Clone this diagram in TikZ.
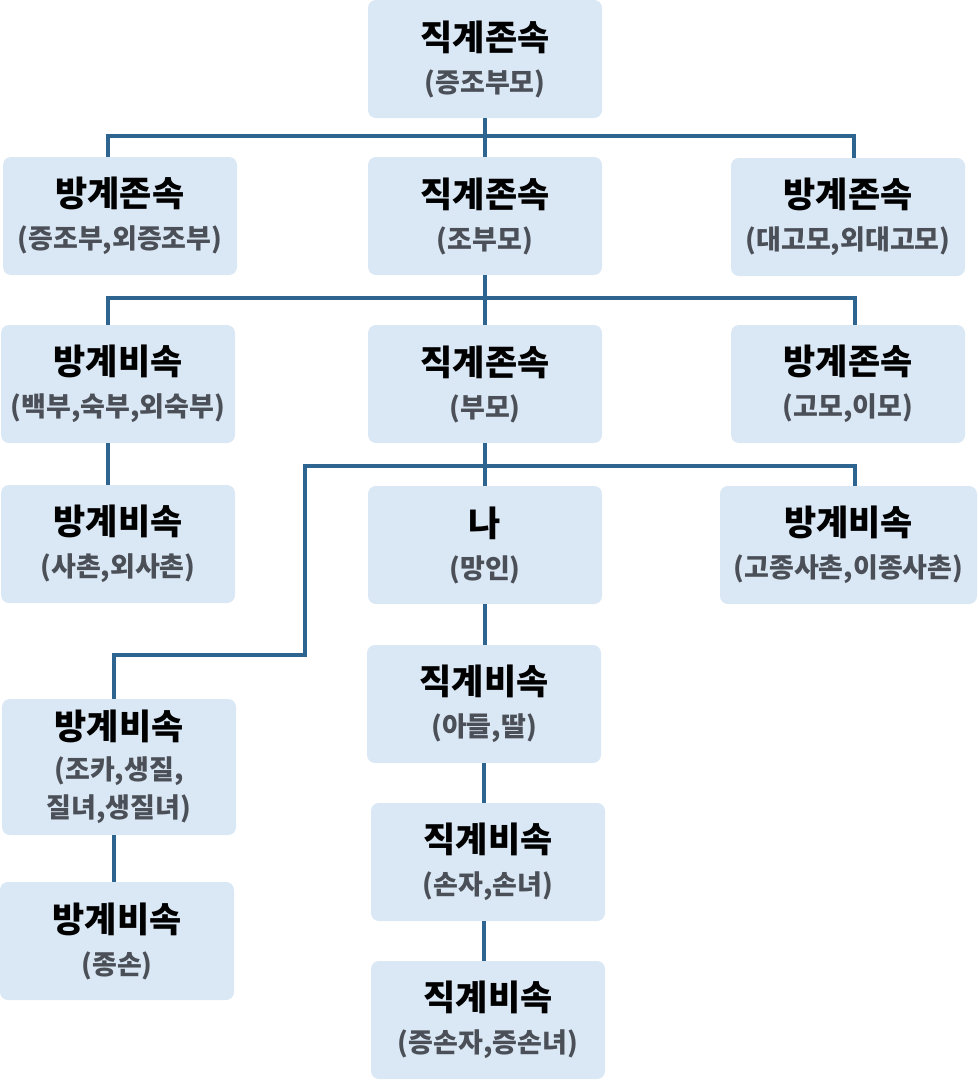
\documentclass[tikz,border=0pt]{standalone}
\usepackage{fontspec}
\setmainfont{Noto Sans CJK KR}
\usetikzlibrary{calc,positioning}
\definecolor{boxblue}{HTML}{DAE7F4}
\definecolor{linkblue}{HTML}{2E6490}
\definecolor{subgray}{HTML}{4B5058}
\newcommand{\subfnt}{\fontsize{27}{35}\selectfont\bfseries\color{subgray}}
\newcommand{\kin}[2]{#1\\[2pt]\subfnt #2}
\tikzset{
  kinbox/.style={fill=boxblue,rounded corners=8pt,minimum width=234,minimum height=118,align=center,inner sep=0pt,font=\fontsize{35}{40}\selectfont\bfseries},
  link/.style={draw=linkblue,line width=4pt}
}
\begin{document}
\begin{tikzpicture}[x=1pt,y=-1pt]
  \useasboundingbox (0,0) rectangle (978,1081);
  % ancestors
  \node[kinbox] (top) at (485,59) {\kin{직계존속}{(증조부모)}};
  \node[kinbox] (gpl) at (120,216) {\kin{방계존속}{(증조부,외증조부)}};
  \node[kinbox] (gp) at (485,216) {\kin{직계존속}{(조부모)}};
  \node[kinbox] (gpr) at (848,217) {\kin{방계존속}{(대고모,외대고모)}};
  \node[kinbox] (uncle) at (118,384) {\kin{방계비속}{(백부,숙부,외숙부)}};
  \node[kinbox] (parent) at (485,384) {\kin{직계존속}{(부모)}};
  \node[kinbox] (aunt) at (848,384) {\kin{방계존속}{(고모,이모)}};
  % own generation
  \node[kinbox] (cousin) at (118,544) {\kin{방계비속}{(사촌,외사촌)}};
  \node[kinbox] (me) at (485,545) {\kin{나}{(망인)}};
  \node[kinbox,minimum width=257] (cousinb) at (848.5,545) {\kin{방계비속}{(고종사촌,이종사촌)}};
  % descendants
  \node[kinbox] (child) at (484,704) {\kin{직계비속}{(아들,딸)}};
  \node[kinbox,minimum height=136] (nephew) at (119,767) {방계비속\\[0pt]\subfnt (조카,생질,\\[-2pt]\subfnt 질녀,생질녀)};
  \node[kinbox] (grand) at (488,862) {\kin{직계비속}{(손자,손녀)}};
  \node[kinbox] (gnephew) at (117,941) {\kin{방계비속}{(종손)}};
  \node[kinbox] (ggrand) at (488,1020) {\kin{직계비속}{(증손자,증손녀)}};

  \draw[link] (top.south) -- ++(0,18) coordinate (b1);
  \draw[link] ($(gpl.north)+(-12,0)$) |- (b1) -| ($(gpr.north)+(6,0)$);
  \draw[link] (b1) -- (gp.north);
  \draw[link] (gp.south) -- ++(0,23) coordinate (b2);
  \draw[link] ($(uncle.north)+(-10,0)$) |- (b2) -| ($(aunt.north)+(7,0)$);
  \draw[link] (b2) -- (parent.north);
  \draw[link] ($(uncle.south)+(-10,0)$) -- ($(cousin.north)+(-10,0)$);
  \draw[link] (parent.south) -- ++(0,23) coordinate (b3);
  \draw[link] ($(nephew.north)+(-5,0)$) |- (305,655) |- (b3) -| ($(cousinb.north)+(6,0)$);
  \draw[link] (b3) -- (me.north);
  \draw[link] (me.south) -- (me.south |- child.north);
  \draw[link] (child.south) -- (child.south |- grand.north);
  \draw[link] (child.south |- grand.south) -- (child.south |- ggrand.north);
  \draw[link] ($(nephew.south)+(-5,0)$) -- ($(nephew.south |- gnephew.north)+(-5,0)$);
\end{tikzpicture}
\end{document}
